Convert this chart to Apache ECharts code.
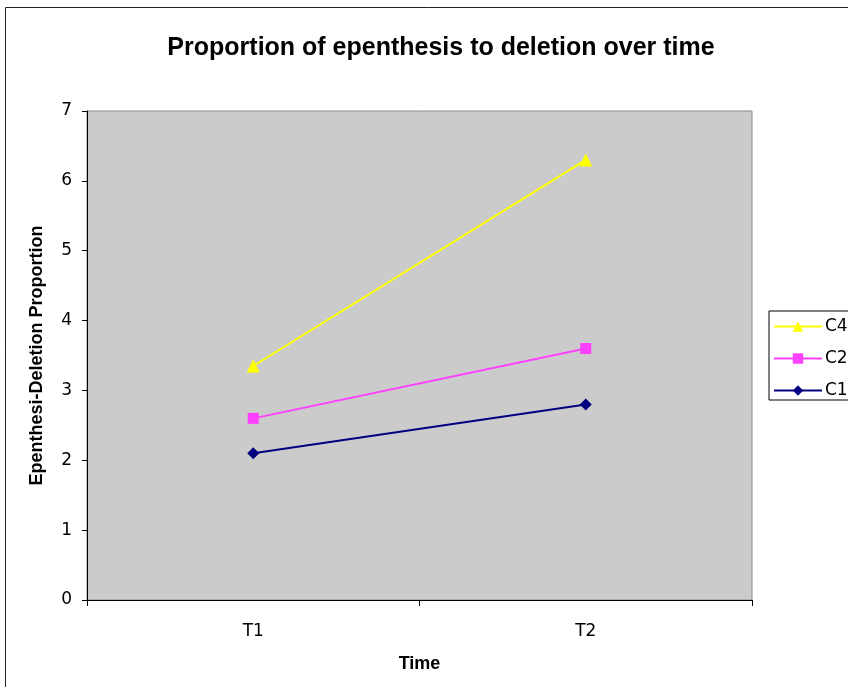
<!DOCTYPE html>
<html>
<head>
<meta charset="utf-8">
<script src="https://cdn.jsdelivr.net/npm/echarts@6/dist/echarts.min.js"></script>
<style>
  html, body { margin: 0; padding: 0; background: #fff; }
  #chart { width: 848px; height: 687px; }
</style>
</head>
<body>
<div id="chart"></div>
<script>
// data
const times = ["T1", "T2"];
const c1 = [2.1, 2.8];
const c2 = [2.6, 3.6];
const c4 = [3.35, 6.3];
const yTicks = [0, 1, 2, 3, 4, 5, 6, 7];

const labelFont = "DejaVu Sans";
const titleFont = "Liberation Sans, Arial, sans-serif";

let chart = echarts.init(document.getElementById("chart"));
chart.setOption({
  backgroundColor: "#fff",
  animation: false,
  title: {
    text: "Proportion of epenthesis to deletion over time",
    left: 436,
    textAlign: "center",
    top: 31,
    textStyle: { fontFamily: titleFont, fontSize: 25, fontWeight: "bold", color: "#000" }
  },
  graphic: [
    {
      type: "rect",
      shape: { x: 5.5, y: 7.5, width: 900, height: 700 },
      style: { fill: "none", stroke: "#222", lineWidth: 1 },
      silent: true
    }
  ],
  legend: {
    data: ["C4", "C2", "C1"],
    orient: "vertical",
    left: 769,
    top: 311,
    padding: [7, 30, 1, 4],
    itemGap: 15,
    itemWidth: 48,
    itemHeight: 13,
    borderColor: "#000",
    borderWidth: 1,
    textStyle: { fontFamily: labelFont, fontSize: 17, color: "#000", padding: [0, 0, 0, -2] }
  },
  grid: {
    left: 87,
    top: 111,
    right: 96,
    bottom: 87,
    show: true,
    backgroundColor: "#cbcbcb",
    borderColor: "#8a8a8a",
    borderWidth: 1
  },
  xAxis: {
    type: "category",
    data: times,
    boundaryGap: true,
    name: "Time",
    nameLocation: "middle",
    nameGap: 55,
    nameTextStyle: { fontFamily: titleFont, fontSize: 18, fontWeight: "bold", color: "#000" },
    axisLine: { lineStyle: { color: "#000", width: 1 } },
    axisTick: { show: true, length: 6, alignWithLabel: false, lineStyle: { color: "#000" } },
    axisLabel: { fontFamily: labelFont, fontSize: 17, color: "#000", margin: 23 }
  },
  yAxis: {
    type: "value",
    min: yTicks[0],
    max: yTicks[yTicks.length - 1],
    interval: 1,
    name: "Epenthesi-Deletion Proportion",
    nameLocation: "middle",
    nameGap: 41,
    nameTextStyle: { fontFamily: titleFont, fontSize: 18, fontWeight: "bold", color: "#000" },
    axisLine: { show: true, lineStyle: { color: "#000", width: 1 } },
    axisTick: { show: true, length: 5, lineStyle: { color: "#000" } },
    splitLine: { show: false },
    axisLabel: { fontFamily: labelFont, fontSize: 17, color: "#000", margin: 15 }
  },
  series: [
    {
      name: "C1",
      type: "line",
      data: c1,
      symbol: "diamond",
      symbolSize: 12,
      lineStyle: { color: "#000080", width: 2 },
      itemStyle: { color: "#000080" }
    },
    {
      name: "C2",
      type: "line",
      data: c2,
      symbol: "rect",
      symbolSize: 11,
      lineStyle: { color: "#ff40ff", width: 2 },
      itemStyle: { color: "#ff40ff" }
    },
    {
      name: "C4",
      type: "line",
      data: c4,
      symbol: "triangle",
      symbolSize: 13,
      lineStyle: { color: "#ffff00", width: 2 },
      itemStyle: { color: "#ffff00" }
    }
  ]
});
</script>
</body>
</html>
